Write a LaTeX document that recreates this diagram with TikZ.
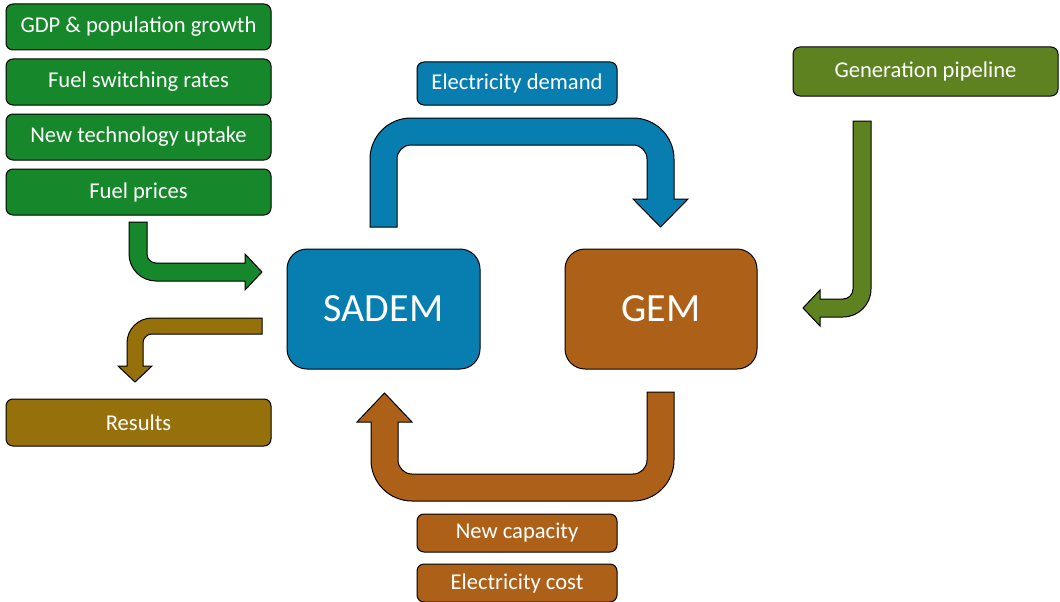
\documentclass[tikz,border=0pt]{standalone}
\usepackage{fontspec}
\setmainfont{Carlito}
\usetikzlibrary{positioning}
\definecolor{inputgreen}{HTML}{16872A}
\definecolor{sadblue}{HTML}{087DB0}
\definecolor{gembrown}{HTML}{AD6018}
\definecolor{resultbrown}{HTML}{96700A}
\definecolor{pipegreen}{HTML}{5E821F}
\tikzset
{
    databox/.style = {rectangle, rounded corners=7pt, draw=black, line width=1pt, text=white, align=center, inner sep=0pt, font=\fontsize{22.6}{27}\selectfont, minimum width=265pt, minimum height=46pt},
    linkbox/.style = {databox, minimum width=200pt, minimum height=40pt},
    modelbox/.style = {databox, rounded corners=20pt, minimum width=193pt, minimum height=120pt, font=\fontsize{40}{48}\selectfont},
    blockarrow/.style = {draw=black, line width=1pt}
}

\begin{document}
\begin{tikzpicture}[x=1pt, y=-1pt]
	\useasboundingbox (0,0) rectangle (1060,602);
	% inputs
	\node[databox, fill=inputgreen] (gdp) at (138.5,27) {GDP \& population growth};
	\node[databox, fill=inputgreen, below=8pt of gdp] (switching) {Fuel switching rates};
	\node[databox, fill=inputgreen, below=8pt of switching] (uptake) {New technology uptake};
	\node[databox, fill=inputgreen, below=8pt of uptake] (prices) {Fuel prices};
	\node[databox, fill=resultbrown, minimum height=47pt] (results) at (138.5,422.5) {Results};
	\node[databox, fill=pipegreen, minimum height=49pt] (pipeline) at (925.5,71.5) {Generation pipeline};
	% models
	\node[modelbox, fill=sadblue] (sadem) at (383.5,309) {SADEM};
	\node[modelbox, fill=gembrown, minimum width=192pt] (gem) at (661,309) {GEM};
	% exchanged data
	\node[linkbox, fill=sadblue, minimum height=43pt] (demand) at (517,83.5) {Electricity demand};
	\node[linkbox, fill=gembrown, minimum height=38pt] (capacity) at (517,533) {New capacity};
	\node[linkbox, fill=gembrown, minimum height=38pt, below=11pt of capacity] (cost) {Electricity cost};
	% block arrows
	\draw[blockarrow, fill=inputgreen] (129,222) -- (147,222) -- (147,254) arc[start angle=180, end angle=90, radius=9]
		-- (245,263) -- (245,254) -- (262,272) -- (245,290) -- (245,281) -- (156,281) arc[start angle=90, end angle=180, radius=27] -- cycle;
	\draw[blockarrow, fill=resultbrown] (262,318) -- (262,334) -- (152,334) arc[start angle=270, end angle=180, radius=9]
		-- (143,366) -- (152,366) -- (135,382) -- (118,366) -- (127,366) -- (127,343) arc[start angle=180, end angle=270, radius=25] -- cycle;
	\draw[blockarrow, fill=sadblue] (370,227) -- (397,227) -- (397,159) arc[start angle=180, end angle=270, radius=14]
		-- (633,145) arc[start angle=270, end angle=360, radius=14] -- (647,199) -- (633,199) -- (660.5,227) -- (688,199) -- (674,199)
		-- (674,159) arc[start angle=0, end angle=-90, radius=41] -- (411,118) arc[start angle=270, end angle=180, radius=41] -- cycle;
	\draw[blockarrow, fill=gembrown] (647,392) -- (674,392) -- (674,460) arc[start angle=0, end angle=90, radius=41]
		-- (412,501) arc[start angle=90, end angle=180, radius=41] -- (371,422) -- (357,422) -- (384.5,393) -- (412,422) -- (398,422)
		-- (398,460) arc[start angle=180, end angle=90, radius=14] -- (633,474) arc[start angle=90, end angle=0, radius=14] -- cycle;
	\draw[blockarrow, fill=pipegreen] (853,121) -- (871,121) -- (871,289) arc[start angle=0, end angle=90, radius=28]
		-- (820,317) -- (820,326) -- (803,308) -- (820,290) -- (820,299) -- (843,299) arc[start angle=90, end angle=0, radius=10] -- cycle;
\end{tikzpicture}
\end{document}
